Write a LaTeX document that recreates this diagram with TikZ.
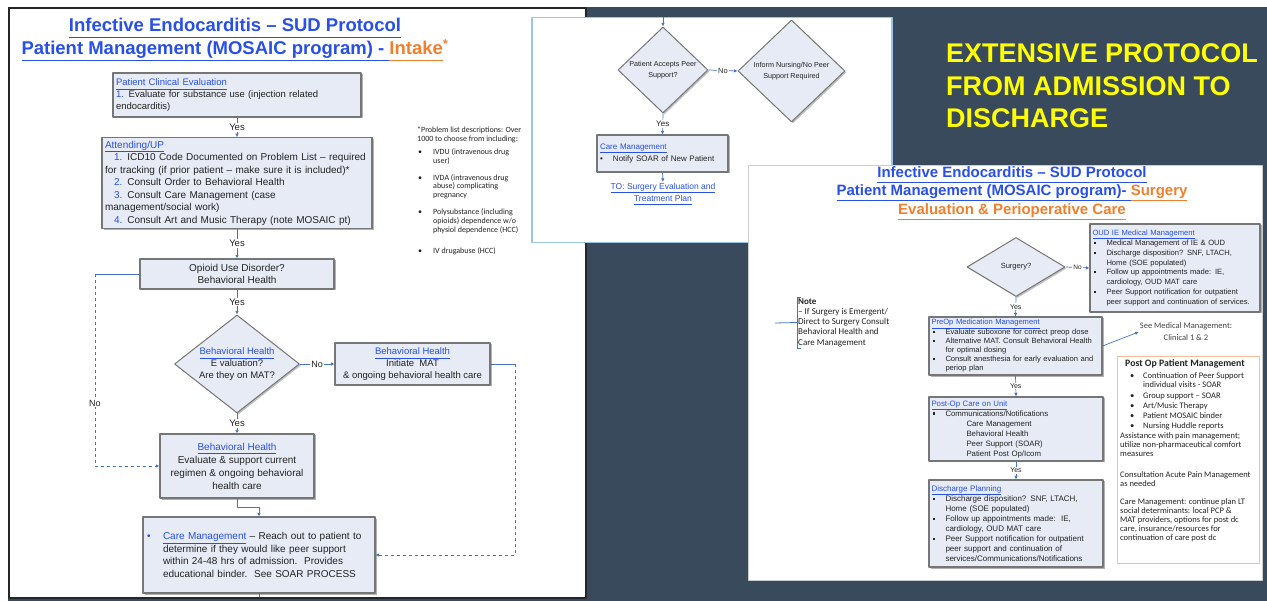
\documentclass[tikz,border=0pt]{standalone}
\usepackage{fontspec}
\setmainfont{Liberation Sans}
\newfontfamily\calfont{Carlito}
\usetikzlibrary{shapes.geometric,arrows.meta,shadows}
\definecolor{slate}{RGB}{58,74,93}
\definecolor{boxfill}{RGB}{230,235,246}
\definecolor{boxline}{RGB}{118,118,118}
\definecolor{tblue}{RGB}{40,80,230}
\definecolor{torange}{RGB}{240,128,48}
\definecolor{cblue}{RGB}{70,114,196}
\definecolor{pblue}{RGB}{157,195,230}
\definecolor{porange}{RGB}{246,190,150}
\definecolor{ylw}{RGB}{255,255,0}
\definecolor{txt}{RGB}{35,35,35}
\newcommand\xfs[2]{\fontsize{#1}{#2}\selectfont}
\newcommand\xul[1]{\underline{#1\vphantom{(}}}
\newcommand\xbt[1]{{\color{tblue}\xul{#1}}}
\newcommand\xot[1]{{\color{torange}\xul{#1}}}
\newcommand\xsq{\raisebox{0.35ex}{\rule{2.2pt}{2.2pt}}}
\newcommand\xbi{\makebox[14pt][l]{\hspace{1pt}\xsq}}
\newcommand\xbc{\hspace*{14pt}}
\newcommand\xfb{\makebox[16pt][l]{\hspace{1pt}\textbullet}}
\newcommand\xfc{\hspace*{16pt}}
\newcommand\xpb{\hspace*{10pt}\makebox[13pt][l]{\textbullet}}
\newcommand\xpc{\hspace*{23pt}}
\begin{document}
\begin{tikzpicture}[x=1pt,y=-1pt,line join=round,
  lbox/.style={draw=boxline, line width=1.3pt, fill=boxfill, inner sep=3pt, text=txt,
     drop shadow={shadow xshift=1.5pt, shadow yshift=-1.5pt, opacity=0.3, fill=black}},
  rbox/.style={lbox, line width=1.1pt, inner sep=2.5pt, align=left},
  ddia/.style={diamond, draw=boxline, line width=1pt, fill=boxfill, inner sep=0pt, align=center, text=txt,
     drop shadow={shadow xshift=1.5pt, shadow yshift=-1.5pt, opacity=0.25, fill=black}},
  conn/.style={draw=cblue, line width=0.7pt},
  arr/.style={conn, -{Latex[length=3.5pt,width=3.5pt]}},
  dsh/.style={dash pattern=on 3pt off 3pt},
  yeslbl/.style={fill=white, inner sep=1pt, text=txt},
  panel/.style={anchor=north west, inner sep=0pt, fill=white}
]
\useasboundingbox (0,0) rectangle (1267,601);
\fill[white] (0,0) rectangle (1267,601);
\fill[slate] (8,7) rectangle (1267,601);

% ---------------- left panel ----------------
\node[panel, draw=black!85, line width=1.6pt, minimum width=577pt, minimum height=590pt] (lpanel) at (8,7) {};

\node[font=\bfseries\xfs{18.5}{23}, align=center, inner sep=0pt] (ltitle) at (235,39.5)
  {\xbt{Infective Endocarditis – SUD Protocol}\\
   \xbt{Patient Management (MOSAIC program) -\ }\xot{Intake}\textsuperscript{\color{torange}*}};

\node[lbox, align=left, minimum width=248pt, minimum height=44pt, text width=242pt, font=\xfs{9.5}{12}] (pce) at (237,95)
  {\xbt{Patient Clinical Evaluation}\\
   {\color{tblue}1.} Evaluate for substance use (injection related\\
   endocarditis)};

\node[lbox, align=left, minimum width=270pt, minimum height=90pt, text width=264pt, font=\xfs{10}{12.5}] (att) at (237,183)
  {\xbt{Attending/UP}\\
   \hspace*{9pt}{\color{tblue}1.} ICD10 Code Documented on Problem List – required\\
   for tracking (if prior patient – make sure it is included)*\\
   \hspace*{9pt}{\color{tblue}2.} Consult Order to Behavioral Health\\
   \hspace*{9pt}{\color{tblue}3.} Consult Care Management (case\\
   management/social work)\\
   \hspace*{9pt}{\color{tblue}4.} Consult Art and Music Therapy (note MOSAIC pt)};

\node[lbox, align=center, minimum width=194pt, minimum height=30pt, font=\xfs{10}{12}] (oud) at (237,274)
  {Opioid Use Disorder?\\Behavioral Health};

\node[ddia, minimum width=125pt, minimum height=98pt, shape aspect=1.28, font=\xfs{9.5}{12}] (bhdia) at (237,364)
  {\xbt{Behavioral Health}\\E valuation?\\Are they on MAT?};

\node[lbox, align=center, minimum width=155pt, minimum height=42pt, font=\xfs{9.5}{12}] (bhinit) at (412.5,364)
  {\xbt{Behavioral Health}\\Initiate\ \ MAT\\\& ongoing behavioral health care};

\node[lbox, align=center, minimum width=154pt, minimum height=64pt, font=\xfs{10}{13}] (bheval) at (237,466)
  {\xbt{Behavioral Health}\\Evaluate \& support current\\regimen \& ongoing behavioral\\health care};

\node[lbox, align=left, minimum width=232pt, minimum height=76pt, text width=226pt, font=\xfs{10}{12.8}] (care) at (259,555)
  {\makebox[17pt][l]{\hspace{1pt}\color{tblue}\textbullet}\xbt{Care Management} – Reach out to patient to\\
   \hspace*{17pt}determine if they would like peer support\\
   \hspace*{17pt}within 24-48 hrs of admission.\ \ Provides\\
   \hspace*{17pt}educational binder.\ \ See SOAR PROCESS};

\node[font=\calfont\xfs{8}{8.8}, text=txt, align=left, anchor=north west, inner sep=0pt] (fnote) at (417,127)
  {*Problem list descriptions: Over\\
   1000 to choose from including:\\[4pt]
   \xfb IVDU (intravenous drug\\
   \xfc user)\\[8pt]
   \xfb IVDA (intravenous drug\\
   \xfc abuse) complicating\\
   \xfc pregnancy\\[8pt]
   \xfb Polysubstance (including\\
   \xfc opioids) dependence w/o\\
   \xfc physiol dependence (HCC)\\[13pt]
   \xfb IV drugabuse (HCC)};

% left connectors
\draw[arr] (pce.south) -- node[yeslbl, font=\xfs{9.5}{10}] (y1) {Yes} (att.north);
\draw[arr] (att.south) -- node[yeslbl, font=\xfs{9.5}{10}] (y2) {Yes} (oud.north);
\draw[arr] (oud.south) -- node[yeslbl, font=\xfs{9.5}{10}] (y3) {Yes} (bhdia.north);
\draw[arr] (bhdia.east) -- node[yeslbl, font=\xfs{9}{10}] (n1) {No} (bhinit.west);
\draw[arr] (bhdia.south) -- node[yeslbl, font=\xfs{9.5}{10}] (y4) {Yes} (bheval.north);
\draw[arr] (bheval.south) -- ++(0,9) -| (care.north);
\coordinate (lj1) at (95,274);
\coordinate (lj2) at (95,466);
\draw[conn] (oud.west) -- (lj1);
\draw[arr, dsh] (lj1) -- (lj2) -- (bheval.west);
\node[yeslbl, font=\xfs{9}{10}] (n2) at (95,403) {No};
\coordinate (rj1) at (515,364);
\coordinate (rj2) at (515,555);
\draw[conn] (bhinit.east) -- (rj1);
\draw[arr, dsh] (rj1) -- (rj2) -- (care.east);
\coordinate (cbot) at (259,597);
\draw[conn] (care.south) -- (cbot);

% ---------------- middle panel ----------------
\node[panel, draw=pblue, line width=1.5pt, minimum width=360pt, minimum height=225pt] (mpanel) at (531,17) {};
\node[ddia, minimum width=90pt, minimum height=86pt, shape aspect=1.05, font=\xfs{7.2}{11}] (d1) at (663,70)
  {Patient Accepts Peer\\Support?};
\node[ddia, minimum width=107pt, minimum height=102pt, shape aspect=1.05, font=\xfs{7.2}{11}] (d2) at (791.5,71)
  {Inform Nursing/No Peer\\Support Required};
\node[lbox, line width=1.1pt, align=left, minimum width=131pt, minimum height=37pt, text width=125pt, font=\xfs{8}{12}] (cm2) at (662.5,153.5)
  {\xbt{Care Management}\\
   \makebox[13pt][l]{\textbullet}Notify SOAR of New Patient};
\node[font=\xfs{8.5}{12}, text=tblue, align=center, inner sep=1pt] (tosurg) at (663,194)
  {\xul{TO: Surgery Evaluation and}\\\xul{Treatment Plan}};
\coordinate (mtop) at (663,17);
\draw[arr] (mtop) -- (d1.north);
\draw[arr] (d1.east) -- node[yeslbl, font=\xfs{7.5}{9}] (n3) {No} (d2.west);
\draw[arr] (d1.south) -- node[yeslbl, font=\xfs{8}{9}] (y5) {Yes} (cm2.north);
\draw[arr] (cm2.south) -- (tosurg.north);

% ---------------- right panel ----------------
\node[panel, draw=black!20, line width=0.6pt, minimum width=514pt, minimum height=415pt] (rpanel) at (748,165) {};

\node[font=\bfseries\xfs{15}{18.5}, align=center, inner sep=0pt] (rtitle) at (1012,193)
  {\xbt{Infective Endocarditis – SUD Protocol}\\
   \xbt{Patient Management (MOSAIC program)-\ }\xot{Surgery}\\
   \xot{Evaluation \& Perioperative Care}};

\node[ddia, minimum width=98pt, minimum height=59pt, shape aspect=1.66, font=\xfs{7.5}{9}] (surg) at (1016,267) {Surgery?};

\node[rbox, minimum width=170pt, minimum height=88pt, text width=165pt, font=\xfs{7.6}{9.8}] (oudie) at (1175,268)
  {\xbt{OUD IE Medical Management}\\
   \xbi Medical Management of IE \& OUD\\
   \xbi Discharge disposition? SNF, LTACH,\\
   \xbc Home (SOE populated)\\
   \xbi Follow up appointments made: IE,\\
   \xbc cardiology, OUD MAT care\\
   \xbi Peer Support notification for outpatient\\
   \xbc peer support and continuation of services.};

\node[rbox, minimum width=173pt, minimum height=58pt, text width=168pt, font=\xfs{7.6}{9.2}] (preop) at (1015.5,346)
  {\xbt{PreOp Medication Management}\\
   \xbi Evaluate suboxone for correct preop dose\\
   \xbi Alternative MAT. Consult Behavioral Health\\
   \xbc for optimal dosing\\
   \xbi Consult anesthesia for early evaluation and\\
   \xbc periop plan};

\node[rbox, minimum width=174pt, minimum height=64pt, text width=169pt, font=\xfs{7.8}{10}] (postop) at (1016,429)
  {\xbt{Post-Op Care on Unit}\\
   \xbi Communications/Notifications\\
   \hspace*{35pt}Care Management\\
   \hspace*{35pt}Behavioral Health\\
   \hspace*{35pt}Peer Support (SOAR)\\
   \hspace*{35pt}Patient Post Op/Icom};

\node[rbox, minimum width=174pt, minimum height=87pt, text width=169pt, font=\xfs{8}{10}] (disch) at (1016,523.5)
  {\xbt{Discharge Planning}\\
   \xbi Discharge disposition? SNF, LTACH,\\
   \xbc Home (SOE populated)\\
   \xbi Follow up appointments made:\ \ IE,\\
   \xbc cardiology, OUD MAT care\\
   \xbi Peer Support notification for outpatient\\
   \xbc peer support and continuation of\\
   \xbc services/Communications/Notifications};

\node[font=\calfont\xfs{8.5}{12}, text=txt!85, align=center, inner sep=1pt] (seemm) at (1186,332)
  {See Medical Management:\\Clinical 1 \& 2};

\node[font=\calfont\xfs{9}{10.3}, text=txt, align=left, anchor=north west, inner sep=1pt] (note) at (797,297)
  {\textbf{Note}\\– If Surgery is Emergent/\\Direct to Surgery Consult\\Behavioral Health and\\Care Management};
\draw[cblue, line width=0.8pt] ([xshift=4pt]note.north west) -- (note.north west) -- (note.south west) -- ([xshift=4pt]note.south west);
\coordinate (notel) at (775,323);
\draw[cblue, line width=0.8pt] (notel) -- (note.west);

\node[panel, draw=porange, line width=0.8pt, minimum width=142pt, minimum height=207pt] (popbox) at (1117,356) {};
\node[font=\calfont\xfs{8.5}{9}, text=txt, align=left, anchor=north west, inner sep=0pt] (poptext) at (1120,359)
  {\hspace*{5pt}{\bfseries\xfs{9.8}{10}Post Op Patient Management}\\[3pt]
   \xpb Continuation of Peer Support\\
   \xpc individual visits - SOAR\\[2pt]
   \xpb Group support – SOAR\\[1pt]
   \xpb Art/Music Therapy\\[1pt]
   \xpb Patient MOSAIC binder\\[1pt]
   \xpb Nursing Huddle reports\\[1.5pt]
   Assistance with pain management;\\
   utilize non-pharmaceutical comfort\\
   measures\\[12pt]
   Consultation Acute Pain Management\\
   as needed\\[9pt]
   Care Management: continue plan LT\\
   social determinants: local PCP \&\\
   MAT providers, options for post dc\\
   care, insurance/resources for\\
   continuation of care post dc};

\draw[arr] (surg.east) -- node[yeslbl, font=\xfs{6.5}{8}] (n4) {No} (oudie.west);
\draw[arr] (surg.south) -- node[yeslbl, font=\xfs{7}{8}] (y6) {Yes} (preop.north);
\draw[arr] (preop.south) -- node[yeslbl, font=\xfs{7}{8}] (y7) {Yes} (postop.north);
\draw[arr] (postop.south) -- node[yeslbl, font=\xfs{7}{8}] (y8) {Yes} (disch.north);
\draw[arr] (preop.east) -- (seemm.west);

% ---------------- headline ----------------
\node[font=\bfseries\xfs{27}{32.5}, text=ylw, align=left, anchor=west, inner sep=0pt] (ext) at (946,86)
  {EXTENSIVE PROTOCOL\\FROM ADMISSION TO\\DISCHARGE};
\end{tikzpicture}
\end{document}
